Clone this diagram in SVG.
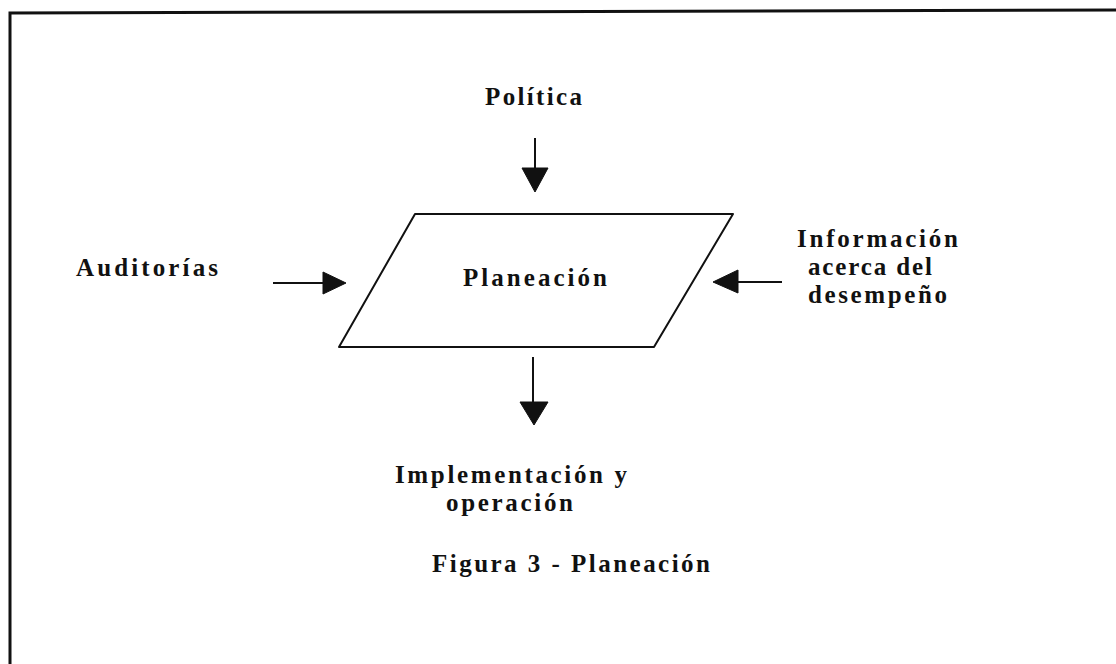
<svg xmlns="http://www.w3.org/2000/svg" width="1116" height="664" viewBox="0 0 1116 664">
  <style>
    .lbl { font-family: 'Liberation Serif', 'Times New Roman', serif; font-weight: bold; font-size: 25px; fill: #111; }
    .frame { fill: none; stroke: #111; stroke-width: 3; }
    .shape { fill: #fff; stroke: #111; stroke-width: 2; stroke-linejoin: round; }
    .conn { stroke: #111; stroke-width: 2; fill: none; }
    .head { fill: #111; stroke: #111; stroke-width: 1; stroke-linejoin: round; }
  </style>
  <rect width="1116" height="664" fill="#fff"/>

  <!-- page frame (top and left edges) -->
  <path class="frame" d="M10,664 L10,13 L1116,10"/>

  <!-- central process -->
  <g id="planeacion">
    <polygon class="shape" points="415,214 733,214 654,347 339,347"/>
    <text class="lbl" x="463" y="286" textLength="144" lengthAdjust="spacing">Planeación</text>
  </g>

  <!-- inputs and output -->
  <g id="politica">
    <text class="lbl" x="485" y="105" textLength="97" lengthAdjust="spacing">Política</text>
  </g>
  <g id="auditorias">
    <text class="lbl" x="76" y="276" textLength="142" lengthAdjust="spacing">Auditorías</text>
  </g>
  <g id="informacion">
    <text class="lbl" x="797" y="247" textLength="161" lengthAdjust="spacing">Información</text>
    <text class="lbl" x="808" y="275" textLength="124" lengthAdjust="spacing">acerca del</text>
    <text class="lbl" x="808" y="303" textLength="139" lengthAdjust="spacing">desempeño</text>
  </g>
  <g id="implementacion">
    <text class="lbl" x="395" y="483" textLength="232" lengthAdjust="spacing">Implementación y</text>
    <text class="lbl" x="446" y="511" textLength="127" lengthAdjust="spacing">operación</text>
  </g>

  <!-- connectors -->
  <g id="connectors">
    <line class="conn" x1="535" y1="138" x2="535" y2="170"/>
    <polygon class="head" points="522,168 548,168 535,192"/>

    <line class="conn" x1="273" y1="283" x2="325" y2="283"/>
    <polygon class="head" points="323,272 323,294 346,283"/>

    <line class="conn" x1="782" y1="282" x2="736" y2="282"/>
    <polygon class="head" points="738,270 738,293 713,282"/>

    <line class="conn" x1="533" y1="357" x2="533" y2="404"/>
    <polygon class="head" points="520,402 548,402 534,425"/>
  </g>

  <!-- caption -->
  <g id="caption">
    <text class="lbl" x="432" y="572" textLength="278" lengthAdjust="spacing">Figura 3 - Planeación</text>
  </g>
</svg>
